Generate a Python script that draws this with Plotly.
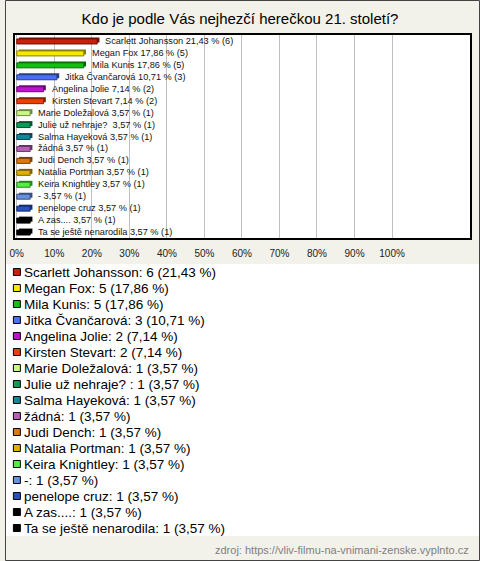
import plotly.graph_objects as go

names = ["Scarlett Johansson", "Megan Fox", "Mila Kunis", "Jitka Čvančarová", "Angelina Jolie",
         "Kirsten Stevart", "Marie Doležalová", "Julie už nehraje? ", "Salma Hayeková", "žádná",
         "Judi Dench", "Natalia Portman", "Keira Knightley", "-", "penelope cruz", "A zas....",
         "Ta se ještě nenarodila"]
counts = [6, 5, 5, 3, 2, 2, 1, 1, 1, 1, 1, 1, 1, 1, 1, 1, 1]
percents = [21.43, 17.86, 17.86, 10.71, 7.14, 7.14, 3.57, 3.57, 3.57, 3.57, 3.57, 3.57, 3.57,
            3.57, 3.57, 3.57, 3.57]
colors = ["#c8200a", "#f8e800", "#10c010", "#4870f0", "#c010d0", "#e84008", "#c8f880", "#109858",
          "#108898", "#b860b8", "#e07808", "#e0b000", "#50f040", "#6890e0", "#2850c0", "#000000",
          "#000000"]
tick_vals = [0, 10, 20, 30, 40, 50, 60, 70, 80, 90, 100]
tick_text = ["0%", "10%", "20%", "30%", "40%", "50%", "60%", "70%", "80%", "90%", "100%"]
title = "Kdo je podle Vás nejhezčí herečkou 21. století?"
source = "zdroj: https://vliv-filmu-na-vnimani-zenske.vyplnto.cz"

W, H = 480, 561
FONT = "Liberation Sans, Arial, sans-serif"


def darker(c, f=0.55):
    c = c.lstrip("#")
    r, g, b = (int(c[i:i + 2], 16) for i in (0, 2, 4))
    return "#%02x%02x%02x" % (int(r * f), int(g * f), int(b * f))


def fmt(p):
    return f"{p:.2f}".replace(".", ",")


idx = list(range(len(names)))
n = len(names)
dark = [darker(c) for c in colors]
bar_labels = [f"{nm} {fmt(p)} % ({c})".replace("  ", "\u00a0 ") for nm, p, c in zip(names, percents, counts)]
legend_labels = [f"{nm}: {c} ({fmt(p)} %)" for nm, p, c in zip(names, percents, counts)]

fig = go.Figure()

# depth (3D) part of the bars
fig.add_trace(go.Bar(
    x=percents, y=idx, orientation="h", base=0.6,
    width=0.42, offset=-0.29,
    marker=dict(color=dark, line=dict(width=0)),
    hoverinfo="skip", showlegend=False,
))
# front face of the bars
fig.add_trace(go.Bar(
    x=percents, y=idx, orientation="h",
    width=0.42, offset=-0.17,
    marker=dict(color=colors, line=dict(color=dark, width=1)),
    showlegend=False,
))

# legend squares (separate axes in pixel-like units)
fig.add_trace(go.Scatter(
    x=[12] * n, y=idx, xaxis="x2", yaxis="y2",
    mode="markers",
    marker=dict(symbol="square", size=7, color=colors, line=dict(color="#000", width=1)),
    cliponaxis=False, showlegend=False, hoverinfo="skip",
))

annotations = []
for i, (p, t) in enumerate(zip(percents, bar_labels)):
    annotations.append(dict(x=p, y=i, xref="x", yref="y", text=t, xanchor="left",
                            yanchor="middle", xshift=6, yshift=0, showarrow=False,
                            font=dict(size=9.2, color="#111", family=FONT)))
for i, t in enumerate(legend_labels):
    annotations.append(dict(x=17.5, y=i, xref="x2", yref="y2", text=t, xanchor="left",
                            yanchor="middle", showarrow=False,
                            font=dict(size=13.5, color="#000", family=FONT)))
annotations.append(dict(text=source, x=471 / W, y=(H - 550) / H, xref="paper", yref="paper",
                        xanchor="right", yanchor="middle", showarrow=False,
                        font=dict(size=11, color="#808080", family=FONT)))

fig.update_layout(
    width=W, height=H,
    margin=dict(l=0, r=0, t=0, b=0),
    paper_bgcolor="#f3f2ea",
    plot_bgcolor="#ffffff",
    font=dict(family=FONT, color="#000"),
    barmode="overlay",
    title=dict(text=title, x=0.5, xanchor="center", y=1 - 19 / H, yanchor="middle",
               font=dict(size=15, color="#000", family=FONT)),
    xaxis=dict(domain=[10 / W, 470 / W], range=[-0.5, 120.8], tickvals=tick_vals,
               ticktext=tick_text, showgrid=True, gridcolor="#c0c0c0", gridwidth=1,
               zeroline=False, showline=True, linecolor="#000", linewidth=1.5, mirror=True,
               ticks="", ticklabelstandoff=5, tickfont=dict(size=10, color="#222", family=FONT),
               fixedrange=True),
    yaxis=dict(domain=[1 - 238 / H, 1 - 35 / H], range=[n - 0.5, -0.5], showticklabels=False,
               showgrid=False, zeroline=False, showline=True, linecolor="#000", linewidth=1.5,
               mirror=True, ticks="", fixedrange=True),
    xaxis2=dict(domain=[0, 1], range=[0, W], visible=False, fixedrange=True, anchor="y2"),
    yaxis2=dict(domain=[1 - 536 / H, 1 - 264 / H], range=[n - 0.5, -0.5], visible=False,
                fixedrange=True, anchor="x2"),
    annotations=annotations,
    shapes=[dict(type="rect", xref="paper", yref="paper", x0=0.5 / W, x1=1 - 0.5 / W,
                 y0=0.5 / H, y1=1 - 0.5 / H, line=dict(color="#444", width=1))],
)

fig.write_html("out.html", config={"displayModeBar": False},
               post_script="document.body.style.margin='0';document.body.style.overflow='hidden';")
